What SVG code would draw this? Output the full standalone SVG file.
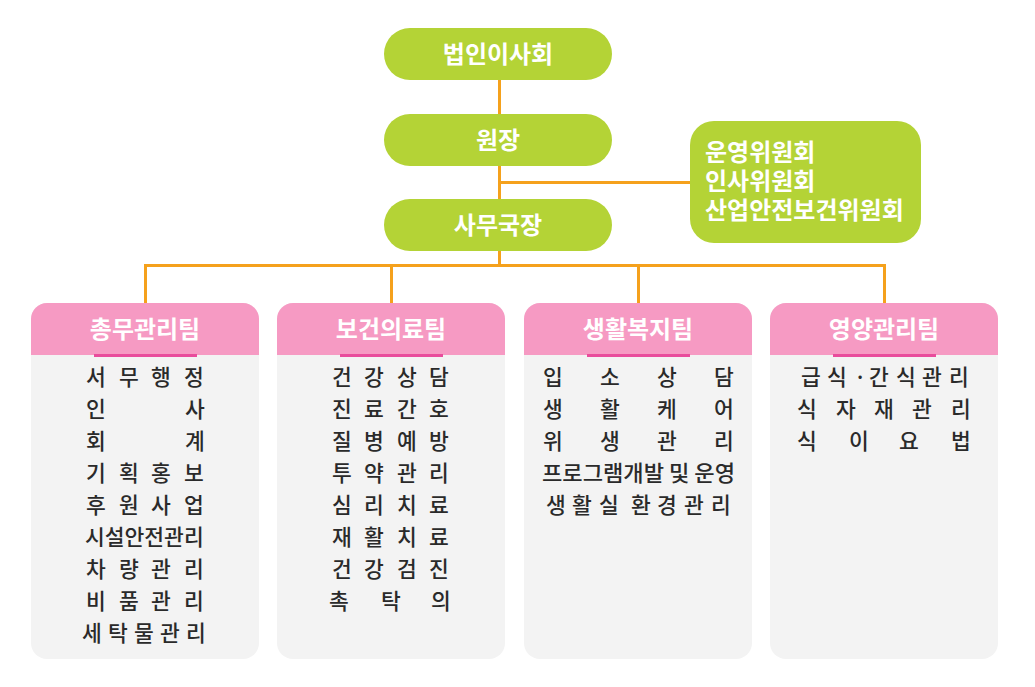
<svg xmlns="http://www.w3.org/2000/svg" width="1035" height="687" viewBox="0 0 1035 687">
<style>
.g{fill:#b4d336}
.wt{fill:#ffffff;font-family:"Noto Sans CJK KR","Noto Sans",sans-serif;font-weight:bold;font-size:24px}
.c{text-anchor:middle}
.hd{fill:#f69ac3}
.ul{fill:#e94c9c}
.bd{fill:#f3f3f3}
.t{fill:#2a2a2a;font-family:"Noto Sans CJK KR","Noto Sans",sans-serif;font-size:21.5px;font-weight:500}
.ln{stroke:#f5a11c;stroke-width:3;fill:none}
</style>
<rect width="1035" height="687" fill="#ffffff"/>
<g id="connectors">
<path class="ln" d="M499.5 80V199"/>
<path class="ln" d="M499.5 182.5H690"/>
<path class="ln" d="M499.5 251V265.5"/>
<path class="ln" d="M145.5 303V265.5H884.5V303"/>
<path class="ln" d="M391.5 265.5V303"/>
<path class="ln" d="M638.5 265.5V303"/>
</g>
<g id="n-board">
<rect class="g" x="384" y="28" width="228" height="52" rx="26"/>
<text class="wt c" x="498" y="63">법인이사회</text>
</g>
<g id="n-director">
<rect class="g" x="384" y="114" width="228" height="52" rx="26"/>
<text class="wt c" x="498" y="149">원장</text>
</g>
<g id="n-secretary">
<rect class="g" x="384" y="199" width="228" height="52" rx="26"/>
<text class="wt c" x="498" y="234">사무국장</text>
</g>
<g id="n-committees">
<rect class="g" x="690" y="121" width="231" height="122" rx="24"/>
<text class="wt"><tspan x="705" y="161">운영위원회</tspan><tspan x="705" y="190">인사위원회</tspan><tspan x="705" y="219">산업안전보건위원회</tspan></text>
</g>
<g id="n-admin">
<rect class="bd" x="31" y="303" width="228" height="356" rx="16"/>
<path class="hd" d="M47 303H243A16 16 0 0 1 259 319V355H31V319A16 16 0 0 1 47 303Z"/>
<rect class="ul" x="94" y="354" width="103" height="3"/>
<text class="wt c" x="145" y="338">총무관리팀</text>
<text class="t"><tspan x="86 119 151 184" y="385">서무행정</tspan><tspan x="86 185" y="417">인사</tspan><tspan x="86 185" y="449">회계</tspan><tspan x="86 119 151 184" y="481">기획홍보</tspan><tspan x="86 119 151 184" y="513">후원사업</tspan><tspan x="85" y="545">시설안전관리</tspan><tspan x="86 119 151 184" y="577">차량관리</tspan><tspan x="86 119 151 184" y="609">비품관리</tspan><tspan x="82 108 134 160 186" y="641">세탁물관리</tspan></text>
</g>
<g id="n-health">
<rect class="bd" x="277" y="303" width="228" height="356" rx="16"/>
<path class="hd" d="M293 303H489A16 16 0 0 1 505 319V355H277V319A16 16 0 0 1 293 303Z"/>
<rect class="ul" x="340" y="354" width="103" height="3"/>
<text class="wt c" x="391" y="338">보건의료팀</text>
<text class="t"><tspan x="332 364 397 429" y="385">건강상담</tspan><tspan x="332 364 397 429" y="417">진료간호</tspan><tspan x="332 364 397 429" y="449">질병예방</tspan><tspan x="332 364 397 429" y="481">투약관리</tspan><tspan x="332 364 397 429" y="513">심리치료</tspan><tspan x="332 364 397 429" y="545">재활치료</tspan><tspan x="332 364 397 429" y="577">건강검진</tspan><tspan x="329 381 431" y="609">촉탁의</tspan></text>
</g>
<g id="n-welfare">
<rect class="bd" x="524" y="303" width="228" height="356" rx="16"/>
<path class="hd" d="M540 303H736A16 16 0 0 1 752 319V355H524V319A16 16 0 0 1 540 303Z"/>
<rect class="ul" x="587" y="354" width="103" height="3"/>
<text class="wt c" x="638" y="338">생활복지팀</text>
<text class="t"><tspan x="543 600 657 714" y="385">입소상담</tspan><tspan x="543 600 657 714" y="417">생활케어</tspan><tspan x="543 600 657 714" y="449">위생관리</tspan><tspan x="542" y="481" textLength="193" lengthAdjust="spacingAndGlyphs">프로그램개발 및 운영</tspan><tspan x="546 572 599 631 657 684 711" y="513">생활실환경관리</tspan></text>
</g>
<g id="n-nutrition">
<rect class="bd" x="770" y="303" width="228" height="356" rx="16"/>
<path class="hd" d="M786 303H982A16 16 0 0 1 998 319V355H770V319A16 16 0 0 1 786 303Z"/>
<rect class="ul" x="833" y="354" width="103" height="3"/>
<text class="wt c" x="884" y="338">영양관리팀</text>
<text class="t"><tspan x="801 827 854 869 896 922 949" y="385">급식·간식관리</tspan><tspan x="797 836 874 912 951" y="417">식자재관리</tspan><tspan x="797 849 899 951" y="449">식이요법</tspan></text>
</g>
</svg>
